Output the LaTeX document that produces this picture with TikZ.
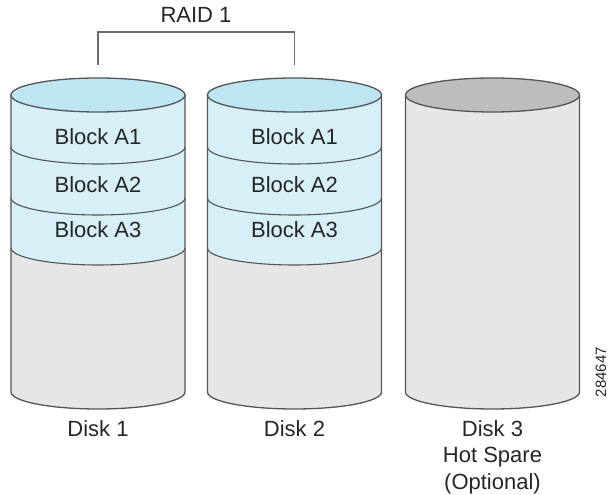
\documentclass[tikz,border=0pt]{standalone}
\usepackage{fontspec}
\setmainfont{Liberation Sans}
\usetikzlibrary{calc}
\definecolor{edge}{HTML}{555555}
\definecolor{bandblue}{HTML}{D7EFF7}
\definecolor{capblue}{HTML}{BEE5F2}
\definecolor{shell}{HTML}{E6E6E6}
\definecolor{capgray}{HTML}{BDBDBD}
\definecolor{ink}{HTML}{262626}
\tikzset{
  rim/.style={draw=edge, line width=1.3pt, line join=round},
  sep/.style={draw=edge, line width=1.1pt},
  bracket/.style={draw=gray!85!black, line width=1.1pt},
  lab/.style={text=ink, font=\fontsize{22}{26.5}\selectfont, inner sep=0pt},
  tag/.style={text=ink, font=\fontsize{15}{18}\selectfont, rotate=90, inner sep=0pt},
}

\begin{document}
\begin{tikzpicture}[x=1pt, y=1pt]
  \def\rx{87}
  \def\ry{17}
  \useasboundingbox (0,0) rectangle (611,495);

  % two mirrored disks
  \foreach \cx/\n in {98/1, 294.5/2} {
    \fill[shell] (\cx-\rx,400) -- (\cx-\rx,103)
      arc[start angle=180, end angle=360, x radius=\rx, y radius=\ry]
      -- (\cx+\rx,400) -- cycle;
    \fill[bandblue] (\cx-\rx,400) -- (\cx-\rx,247)
      arc[start angle=180, end angle=360, x radius=\rx, y radius=\ry]
      -- (\cx+\rx,400)
      arc[start angle=0, end angle=-180, x radius=\rx, y radius=\ry];
    \fill[capblue] (\cx,400) ellipse[x radius=\rx, y radius=\ry];
    \draw[sep] (\cx-\rx,348) arc[start angle=180, end angle=360, x radius=\rx, y radius=\ry];
    \draw[sep] (\cx-\rx,297) arc[start angle=180, end angle=360, x radius=\rx, y radius=\ry];
    \draw[sep] (\cx-\rx,247) arc[start angle=180, end angle=360, x radius=\rx, y radius=\ry];
    \draw[rim] (\cx-\rx,400) -- (\cx-\rx,103)
      arc[start angle=180, end angle=360, x radius=\rx, y radius=\ry]
      -- (\cx+\rx,400);
    \draw[rim] (\cx,400) ellipse[x radius=\rx, y radius=\ry];

    \node[lab] (a1d\n) at (\cx,358) {Block A1};
    \node[lab] (a2d\n) at (\cx,310) {Block A2};
    \node[lab] (a3d\n) at (\cx,265) {Block A3};
    \node[lab, anchor=north] (disk\n) at (\cx,75) {Disk \n};
    \coordinate (top\n) at (\cx,430);
  }

  % hot spare
  \fill[shell] (492.5-\rx,400) -- (492.5-\rx,103)
    arc[start angle=180, end angle=360, x radius=\rx, y radius=\ry]
    -- (492.5+\rx,400) -- cycle;
  \fill[capgray] (492.5,400) ellipse[x radius=\rx, y radius=\ry];
  \draw[rim] (492.5-\rx,400) -- (492.5-\rx,103)
    arc[start angle=180, end angle=360, x radius=\rx, y radius=\ry]
    -- (492.5+\rx,400);
  \draw[rim] (492.5,400) ellipse[x radius=\rx, y radius=\ry];
  \node[lab, anchor=north, align=center] (disk3) at (492.5,75) {Disk 3\\Hot Spare\\(Optional)};

  % mirror bracket
  \node[lab] (raid) at (196,480) {RAID 1};
  \coordinate (b1) at (98,463);
  \coordinate (b2) at (294.5,463);
  \draw[bracket] (top1) -- (b1) -- (b2) -- (top2);

  \node[tag] (fignum) at (601,123) {284647};
\end{tikzpicture}
\end{document}
